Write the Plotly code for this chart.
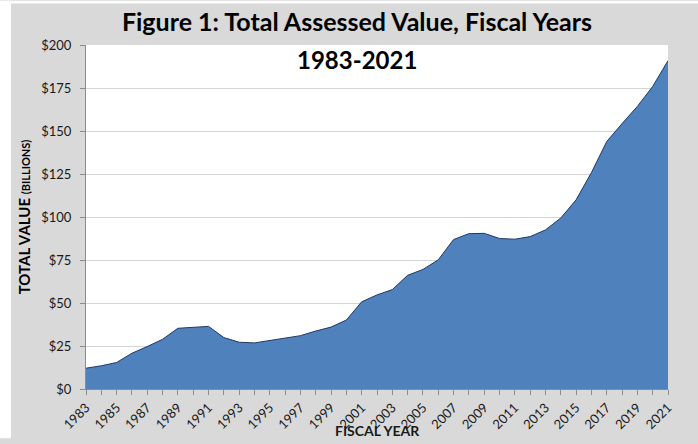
import plotly.graph_objects as go

## DATA ##
years = list(range(1983, 2022))
assessed_value = [
    12.1, 13.5, 15.4, 20.8, 24.7, 28.9, 35.3, 35.8, 36.4, 29.9,
    27.2, 26.8, 28.1, 29.5, 31.0, 33.7, 36.0, 40.1, 50.7, 54.7,
    57.8, 66.1, 69.5, 75.1, 86.9, 90.3, 90.5, 87.5, 87.1, 88.6,
    92.5, 99.4, 110.0, 125.8, 143.9, 154.3, 164.3, 175.9, 190.9,
]
y_ticks = list(range(0, 201, 25))

## PARAMS ##
font_family = "Lato, Calibri, sans-serif"
fill_color = '#4f81bd'
edge_color = '#1f3864'
bg_gray = '#d9d9d9'
axis_gray = '#8c8c8c'
grid_gray = '#d4d4d4'

fig = go.Figure()
fig.add_trace(go.Scatter(
    x=years,
    y=assessed_value,
    mode='lines',
    fill='tozeroy',
    fillcolor=fill_color,
    line=dict(color=edge_color, width=1),
    showlegend=False,
    hoverinfo='x+y',
))

fig.update_layout(
    width=698,
    height=444,
    margin=dict(l=86, r=30, t=45, b=50),
    paper_bgcolor=bg_gray,
    plot_bgcolor='white',
    font=dict(family=font_family, size=12, color='#1a1a1a'),
    title=dict(
        text="<b>Figure 1: Total Assessed Value, Fiscal Years</b>",
        x=357 / 698,
        xanchor='center',
        y=1 - 22 / 444,
        yanchor='middle',
        xref='container',
        yref='container',
        font=dict(family=font_family, size=25, color='black'),
    ),
    xaxis=dict(
        range=[1983, 2021],
        tickmode='linear',
        tick0=1983,
        dtick=2,
        tickangle=-45,
        ticks='outside',
        ticklen=5,
        tickcolor=axis_gray,
        minor=dict(dtick=1, tick0=1983, ticks='outside', ticklen=5, tickcolor=axis_gray),
        showline=True,
        linecolor=axis_gray,
        linewidth=1,
        showgrid=False,
        zeroline=False,
        tickfont=dict(size=13),
    ),
    yaxis=dict(
        range=[0, 200],
        tickmode='array',
        tickvals=y_ticks,
        ticktext=[f'${v}' for v in y_ticks],
        ticks='outside',
        ticklen=5,
        tickcolor=axis_gray,
        ticklabelstandoff=6,
        showline=True,
        linecolor=axis_gray,
        linewidth=1,
        showgrid=True,
        gridcolor=grid_gray,
        gridwidth=1,
        zeroline=False,
        tickfont=dict(size=13),
        title=dict(
            text="<b>TOTAL VALUE <span style='font-size:11px'>(BILLIONS)</span></b>",
            font=dict(size=15, color='black'),
            standoff=6,
        ),
    ),
)

# white strips outside the gray chart frame (left edge and top edge)
fig.add_shape(
    type='rect', xref='paper', yref='paper',
    x0=-86 / 582, x1=-75 / 582, y0=-50 / 349, y1=1 + 45 / 349,
    fillcolor='white', line=dict(width=0), layer='above',
)
fig.add_shape(
    type='rect', xref='paper', yref='paper',
    x0=-86 / 582, x1=1 + 30 / 582, y0=1 + 42 / 349, y1=1 + 45 / 349,
    fillcolor='white', line=dict(width=0), layer='above',
)

fig.add_annotation(
    text="<b>1983-2021</b>",
    xref='paper', yref='paper',
    x=(357 - 86) / 582, y=1 - 15 / 349,
    xanchor='center', yanchor='middle',
    showarrow=False,
    font=dict(family=font_family, size=24, color='black'),
)
fig.add_annotation(
    text="<b>FISCAL YEAR</b>",
    xref='paper', yref='paper',
    x=0.5, y=-42 / 349,
    xanchor='center', yanchor='middle',
    showarrow=False,
    font=dict(family=font_family, size=14, color='#1a1a1a'),
)

# drop the default page margin so the figure sits at the window's corner
fig.write_html(
    "out.html",
    config={'displayModeBar': False},
    post_script="document.body.style.margin='0';",
)
